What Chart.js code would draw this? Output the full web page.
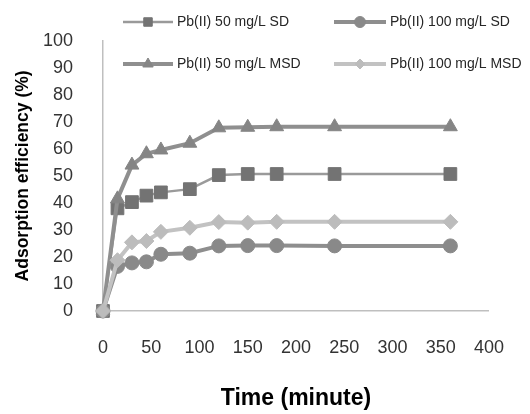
<!DOCTYPE html>
<html>
<head>
<meta charset="utf-8">
<script src="https://cdn.jsdelivr.net/npm/chart.js@4/dist/chart.umd.min.js"></script>
<style>
  html, body { margin: 0; padding: 0; background: #fff; }
  #wrap { width: 530px; height: 414px; position: relative; }
</style>
</head>
<body>
<div id="wrap"><canvas id="c" width="530" height="414"></canvas></div>
<script>
// Data
const times = [0, 15, 30, 45, 60, 90, 120, 150, 180, 240, 360];
const sd50 = [0, 38.0, 40.3, 42.7, 43.9, 45.1, 50.3, 50.7, 50.7, 50.7, 50.7];
const sd100 = [0, 16.5, 17.8, 18.2, 21.0, 21.4, 24.1, 24.2, 24.2, 24.1, 24.1];
const msd50 = [0, 41.5, 54.0, 58.2, 59.6, 62.1, 67.8, 68.0, 68.2, 68.2, 68.2];
const msd100 = [0, 18.8, 25.4, 25.9, 29.3, 30.8, 32.9, 32.7, 33.0, 33.0, 33.0];
const seriesLabels = ['Pb(II) 50 mg/L SD', 'Pb(II) 100 mg/L SD', 'Pb(II) 50 mg/L MSD', 'Pb(II) 100 mg/L MSD'];
const xTitle = 'Time (minute)';
const yTitle = 'Adsorption efficiency (%)';

const toPts = (vals) => times.map((t, i) => ({ x: t, y: vals[i] }));

const styles = [
  { line: '#9a9a9a', fill: '#737373', lw: 2.5, ps: 'rect', r: 9, lr: 6, order: 4 },
  { line: '#8e8e8e', fill: '#898989', lw: 4, ps: 'circle', r: 7, lr: 5.5, order: 3 },
  { line: '#8f8f8f', fill: '#858585', lw: 4, ps: 'triangle', r: 8, lr: 6, order: 2 },
  { line: '#c2c2c2', fill: '#bcbcbc', lw: 4, ps: 'rectRot', r: 7.5, lr: 5, order: 1 }
];
const seriesData = [sd50, sd100, msd50, msd100];

const datasets = seriesData.map((vals, i) => ({
  label: seriesLabels[i],
  data: toPts(vals),
  borderColor: styles[i].line,
  backgroundColor: styles[i].fill,
  borderWidth: styles[i].lw,
  pointStyle: styles[i].ps,
  pointRadius: styles[i].r,
  pointBackgroundColor: styles[i].fill,
  pointBorderColor: styles[i].fill,
  pointBorderWidth: 1,
  showLine: true,
  tension: 0,
  clip: false,
  order: styles[i].order
}));

// Custom 2x2 legend with line + marker samples (like the reference)
const legendPlugin = {
  id: 'gridLegend',
  afterDraw(chart) {
    const ctx = chart.ctx;
    const cols = [{ x0: 123, x1: 173, tx: 177 }, { x0: 334, x1: 386, tx: 390 }];
    const rows = [22, 64];
    const order = [[0, 1], [2, 3]];
    ctx.save();
    ctx.font = '14px "Liberation Sans", Arial, sans-serif';
    ctx.textBaseline = 'middle';
    ctx.textAlign = 'left';
    order.forEach((row, ri) => {
      row.forEach((di, ci) => {
        const c = cols[ci], y = rows[ri], s = styles[di];
        ctx.strokeStyle = s.line;
        ctx.lineWidth = s.lw;
        ctx.beginPath();
        ctx.moveTo(c.x0, y);
        ctx.lineTo(c.x1, y);
        ctx.stroke();
        ctx.fillStyle = s.fill;
        ctx.strokeStyle = s.fill;
        ctx.lineWidth = 1;
        Chart.helpers.drawPoint(ctx, { pointStyle: s.ps, radius: s.lr, borderWidth: 1 }, (c.x0 + c.x1) / 2, y);
        ctx.fillStyle = '#262626';
        ctx.fillText(chart.data.datasets[di].label, c.tx, y);
      });
    });
    ctx.restore();
  }
};

new Chart(document.getElementById('c'), {
  type: 'scatter',
  data: { datasets },
  options: {
    responsive: false,
    animation: false,
    layout: { padding: { top: 33, right: 33, left: 0, bottom: 0 } },
    plugins: { legend: { display: false }, tooltip: { enabled: false } },
    scales: {
      x: {
        type: 'linear', min: 0, max: 400,
        afterFit(scale) { scale.height = 103; },
        ticks: { stepSize: 50, padding: 26, color: '#333333', maxRotation: 0,
                 font: { family: '"Liberation Sans", Arial, sans-serif', size: 18 } },
        grid: { display: false, drawTicks: false },
        border: { display: true, color: '#bfbfbf', width: 1.5 },
        title: { display: true, text: xTitle, color: '#000',
                 padding: { top: 0, bottom: 2 },
                 font: { family: '"Liberation Sans", Arial, sans-serif', size: 23, weight: 'bold' } }
      },
      y: {
        type: 'linear', min: 0, max: 100,
        afterFit(scale) { scale.width = 103; },
        ticks: { stepSize: 10, padding: 30, color: '#333333',
                 font: { family: '"Liberation Sans", Arial, sans-serif', size: 18 } },
        grid: { display: false, drawTicks: false },
        border: { display: true, color: '#bfbfbf', width: 1.5 },
        title: { display: true, text: yTitle, color: '#000',
                 padding: { top: 13, bottom: 0 },
                 font: { family: '"Liberation Sans", Arial, sans-serif', size: 17.5, weight: 'bold' } }
      }
    }
  },
  plugins: [legendPlugin]
});
</script>
</body>
</html>
